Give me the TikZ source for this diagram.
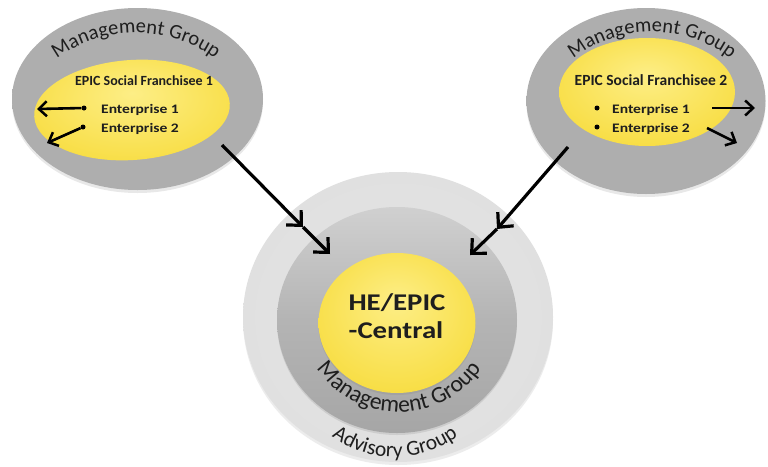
\documentclass[tikz,border=0pt]{standalone}
\usepackage{fontspec}
\usepackage{graphicx}
\setmainfont{Carlito}
\usetikzlibrary{shapes.geometric,arrows.meta,decorations.text,shadows}

% palette
\definecolor{ringA}{HTML}{AEAEAE}
\definecolor{ringB}{HTML}{A2A2A2}
\definecolor{ringC}{HTML}{888888}
\definecolor{yolkA}{HTML}{FDEE86}
\definecolor{yolkB}{HTML}{F8DE46}
\definecolor{yolkC}{HTML}{F0CF30}
\definecolor{yolkD}{HTML}{D9B91A}
\definecolor{advA}{HTML}{E6E6E6}
\definecolor{advB}{HTML}{DCDCDC}
\definecolor{advC}{HTML}{CDCDCD}
\definecolor{advD}{HTML}{B5B5B5}
\definecolor{midTop}{HTML}{D0D0D0}
\definecolor{midMid}{HTML}{B4B4B4}
\definecolor{midBot}{HTML}{A6A6A6}
\definecolor{inktext}{HTML}{1E1E1E}

\pgfdeclareradialshading{mgring}{\pgfpoint{0bp}{0bp}}{%
  color(0bp)=(ringA); color(38bp)=(ringA); color(46bp)=(ringB); color(50bp)=(ringC)}
\pgfdeclareradialshading{yolk}{\pgfpoint{0bp}{8bp}}{%
  color(0bp)=(yolkA); color(28bp)=(yolkB); color(44bp)=(yolkC); color(50bp)=(yolkD)}
\pgfdeclareradialshading{advring}{\pgfpoint{0bp}{0bp}}{%
  color(0bp)=(advA); color(42bp)=(advB); color(48bp)=(advC); color(50bp)=(advD)}

\newcommand\arcfont{\fontsize{20.5}{20.5}\selectfont}
\newcommand\hubarcfont{\fontsize{23.5}{23.5}\selectfont}
\newcommand\advfont{\fontsize{21.5}{21.5}\selectfont}
\newcommand\widen[1]{\scalebox{1.2}[1]{#1}}

\begin{document}
\begin{tikzpicture}[x=1pt,y=1pt,
  grayoval/.style={ellipse, draw=none, inner sep=0pt, shading=mgring,
    drop shadow={shadow xshift=0pt, shadow yshift=-3pt, opacity=0.18}},
  yolkoval/.style={ellipse, draw=none, inner sep=0pt, shading=yolk},
  titletext/.style={anchor=base, inner sep=0pt, text=inktext, font=\bfseries},
  itemtext/.style={anchor=base, inner sep=0pt, text=inktext, font=\bfseries\fontsize{13}{13}\selectfont},
  dotmark/.style={circle, fill=black, inner sep=0pt, minimum size=5pt},
  smallarrow/.style={line width=2.6pt, -{Straight Barb[length=8pt,width=15pt,line width=2.5pt]}},
  bigarrow/.style={line width=3.2pt, -{Straight Barb[length=11pt,width=21pt,line width=3.2pt]}},
  arcword/.style={decorate, decoration={text along path, text align=center, text color=inktext}}
]
\fill[white] (0,0) rectangle (768,-466);
\useasboundingbox (0,0) rectangle (768,-466);

% ---------- central hub ----------
\node[ellipse, inner sep=0pt, minimum width=310pt, minimum height=290pt, shading=advring,
      drop shadow={shadow xshift=0pt, shadow yshift=-3pt, opacity=0.15}] (adv) at (398,-317) {};
\node[ellipse, inner sep=0pt, minimum width=240pt, minimum height=226pt,
      top color=midTop, bottom color=midBot, middle color=midMid,
      drop shadow={shadow xshift=0pt, shadow yshift=-2pt, opacity=0.2}] (mgC) at (397,-320) {};
\node[yolkoval, minimum width=157pt, minimum height=140pt,
      drop shadow={shadow xshift=0pt, shadow yshift=-2pt, opacity=0.2}] (core) at (397,-323) {};

\node[titletext, font=\bfseries\fontsize{24}{24}\selectfont] (heL1) at (397,-310) {\widen{HE/EPIC}};
\node[titletext, font=\bfseries\fontsize{24}{24}\selectfont] (heL2) at (396,-338) {\widen{-Central}};

\path[arcword, decoration={text={|\hubarcfont|Management Group}}]
  ([shift={(200:100)}]399,-312) arc[start angle=200, end angle=340, radius=100];
\path[arcword, decoration={text={|\advfont|Advisory Group}}]
  ([shift={(215:107)}]395,-350) arc[start angle=215, end angle=325, radius=107];

% ---------- left franchisee ----------
\node[grayoval, minimum width=251pt, minimum height=182pt] (mgL) at (137.5,-99) {};
\node[yolkoval, minimum width=196pt, minimum height=100pt, rotate=4] (fsL) at (132,-110) {};
\path[arcword, decoration={text={|\arcfont|Management Group}}]
  ([shift={(125:135)}]136,-168) arc[start angle=125, end angle=55, radius=135];
\node[titletext, font=\bfseries\fontsize{14}{14}\selectfont] (fsLt) at (144,-85) {EPIC Social Franchisee 1};
\node[itemtext] (eL1) at (140,-113) {\widen{Enterprise 1}};
\node[itemtext] (eL2) at (140,-132) {\widen{Enterprise 2}};
\node[dotmark] (bL1) at (84,-108) {};
\node[dotmark] (bL2) at (83,-127) {};
\coordinate (tL1) at (37,-109);
\coordinate (tL2) at (47,-143);
\draw[smallarrow] (bL1) -- (tL1);
\draw[smallarrow] (bL2) -- (tL2);

% ---------- right franchisee ----------
\node[grayoval, minimum width=239pt, minimum height=186pt] (mgR) at (646,-101) {};
\node[yolkoval, minimum width=176pt, minimum height=108pt] (fsR) at (647,-92) {};
\path[arcword, decoration={text={|\arcfont|Management Group}}]
  ([shift={(126:129)}]652,-161) arc[start angle=126, end angle=54, radius=129];
\node[titletext, font=\bfseries\fontsize{15.5}{15.5}\selectfont] (fsRt) at (651,-85) {EPIC Social Franchisee 2};
\node[itemtext] (eR1) at (651,-113) {\widen{Enterprise 1}};
\node[itemtext] (eR2) at (651,-132) {\widen{Enterprise 2}};
\node[dotmark] (bR1) at (597,-108) {};
\node[dotmark] (bR2) at (597,-127) {};
\coordinate (sR1) at (712,-108);
\coordinate (tR1) at (755,-108);
\coordinate (sR2) at (707,-128);
\coordinate (tR2) at (737,-143);
\draw[smallarrow] (sR1) -- (tR1);
\draw[smallarrow] (sR2) -- (tR2);

% ---------- links into the hub ----------
\coordinate (srcL) at (222,-145);
\coordinate (midL) at (303,-227);
\coordinate (endL) at (330,-254);
\coordinate (srcR) at (568,-147);
\coordinate (midR) at (497,-229);
\coordinate (endR) at (470,-255);
\draw[bigarrow] (srcL) -- (midL);
\draw[bigarrow] (midL) -- (endL);
\draw[bigarrow] (srcR) -- (midR);
\draw[bigarrow] (midR) -- (endR);
\end{tikzpicture}
\end{document}
